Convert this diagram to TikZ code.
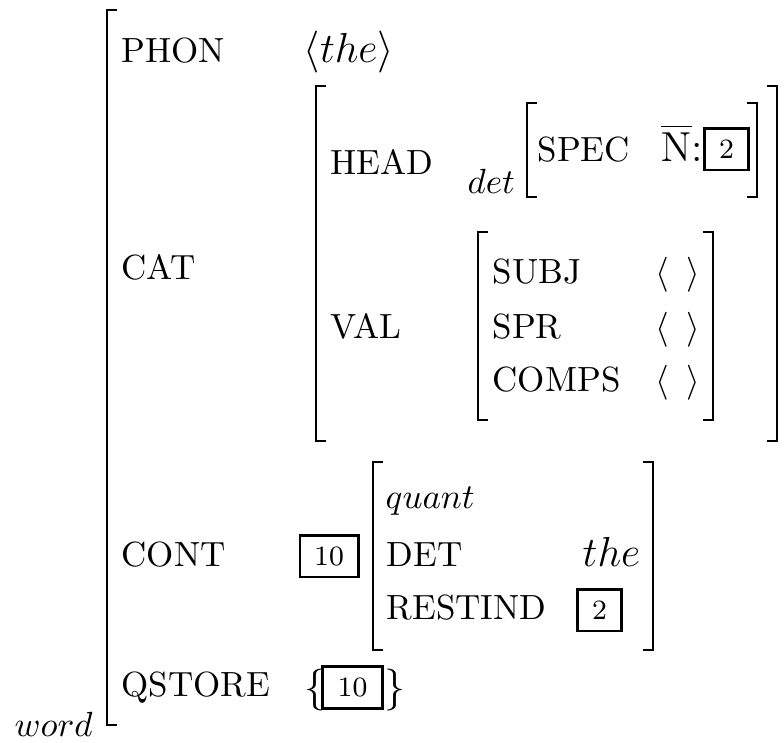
\documentclass[tikz,border=0pt]{standalone}
\usepackage{amsmath}
\begin{document}
\begin{tikzpicture}[x=0.286pt,y=-0.286pt,
  lbl/.style={anchor=base west,inner sep=0pt},
  brk/.style={line width=0.7pt},
  tagbox/.style={draw,line width=0.85pt,inner sep=0pt,minimum height=12pt,minimum width=#1,font=\footnotesize}]
\useasboundingbox (0,0) rectangle (784,742);
\newcommand\lbrak[3]{\draw[brk] (#1+10,#2) -- (#1,#2) -- (#1,#3) -- (#1+10,#3);}
\newcommand\rbrak[3]{\draw[brk] (#1-10,#2) -- (#1,#2) -- (#1,#3) -- (#1-10,#3);}
% outer
\lbrak{107}{10}{725}
\node[lbl] (word) at (14,736) {$word$};
\node[lbl] (phon) at (121,62) {PHON};
\node[lbl] (phonv) at (303,62) {\large$\langle the\rangle$};
\node[lbl] (cat) at (121,279) {CAT};
\node[lbl] (cont) at (121,566) {CONT};
\node[lbl] (qstore) at (121,696) {QSTORE};
% CAT
\lbrak{316}{86}{441}
\rbrak{777}{86}{441}
\node[lbl] (head) at (330,174) {HEAD};
\node[lbl] (val) at (330,338) {VAL};
\node[lbl] (det) at (467,193) {$det$};
\lbrak{527}{103}{197}
\rbrak{757}{103}{197}
\node[lbl] (spec) at (537,161) {SPEC};
\node[lbl] (nbar) at (660,161) {\large$\overline{\mathrm{N}}$:};
\node[tagbox=12.4pt] (t2a) at (726.5,149) {2};
\lbrak{478}{232}{420}
\rbrak{713}{232}{420}
\node[lbl] (subj) at (492,283) {SUBJ};
\node[lbl] (spr) at (492,338) {SPR};
\node[lbl] (comps) at (492,391) {COMPS};
\node[lbl] (subjv) at (655,283) {$\langle\hspace{5pt}\rangle$};
\node[lbl] (sprv) at (655,338) {$\langle\hspace{5pt}\rangle$};
\node[lbl] (compsv) at (655,391) {$\langle\hspace{5pt}\rangle$};
% CONT
\node[tagbox=16.6pt] (t10a) at (329,556) {10};
\lbrak{373}{462}{650}
\rbrak{653}{462}{650}
\node[lbl] (quant) at (385,508) {$quant$};
\node[lbl] (detf) at (386,566) {DET};
\node[lbl] (the) at (582,566) {\large$the$};
\node[lbl] (restind) at (386,619) {RESTIND};
\node[tagbox=12.4pt] (t2b) at (599.5,610) {2};
% QSTORE
\node[lbl] (lbr) at (304,700) {\large$\{$};
\node[tagbox=16.9pt] (t10b) at (352.5,687.5) {10};
\node[lbl] (rbr) at (384,700) {\large$\}$};
\end{tikzpicture}
\end{document}
